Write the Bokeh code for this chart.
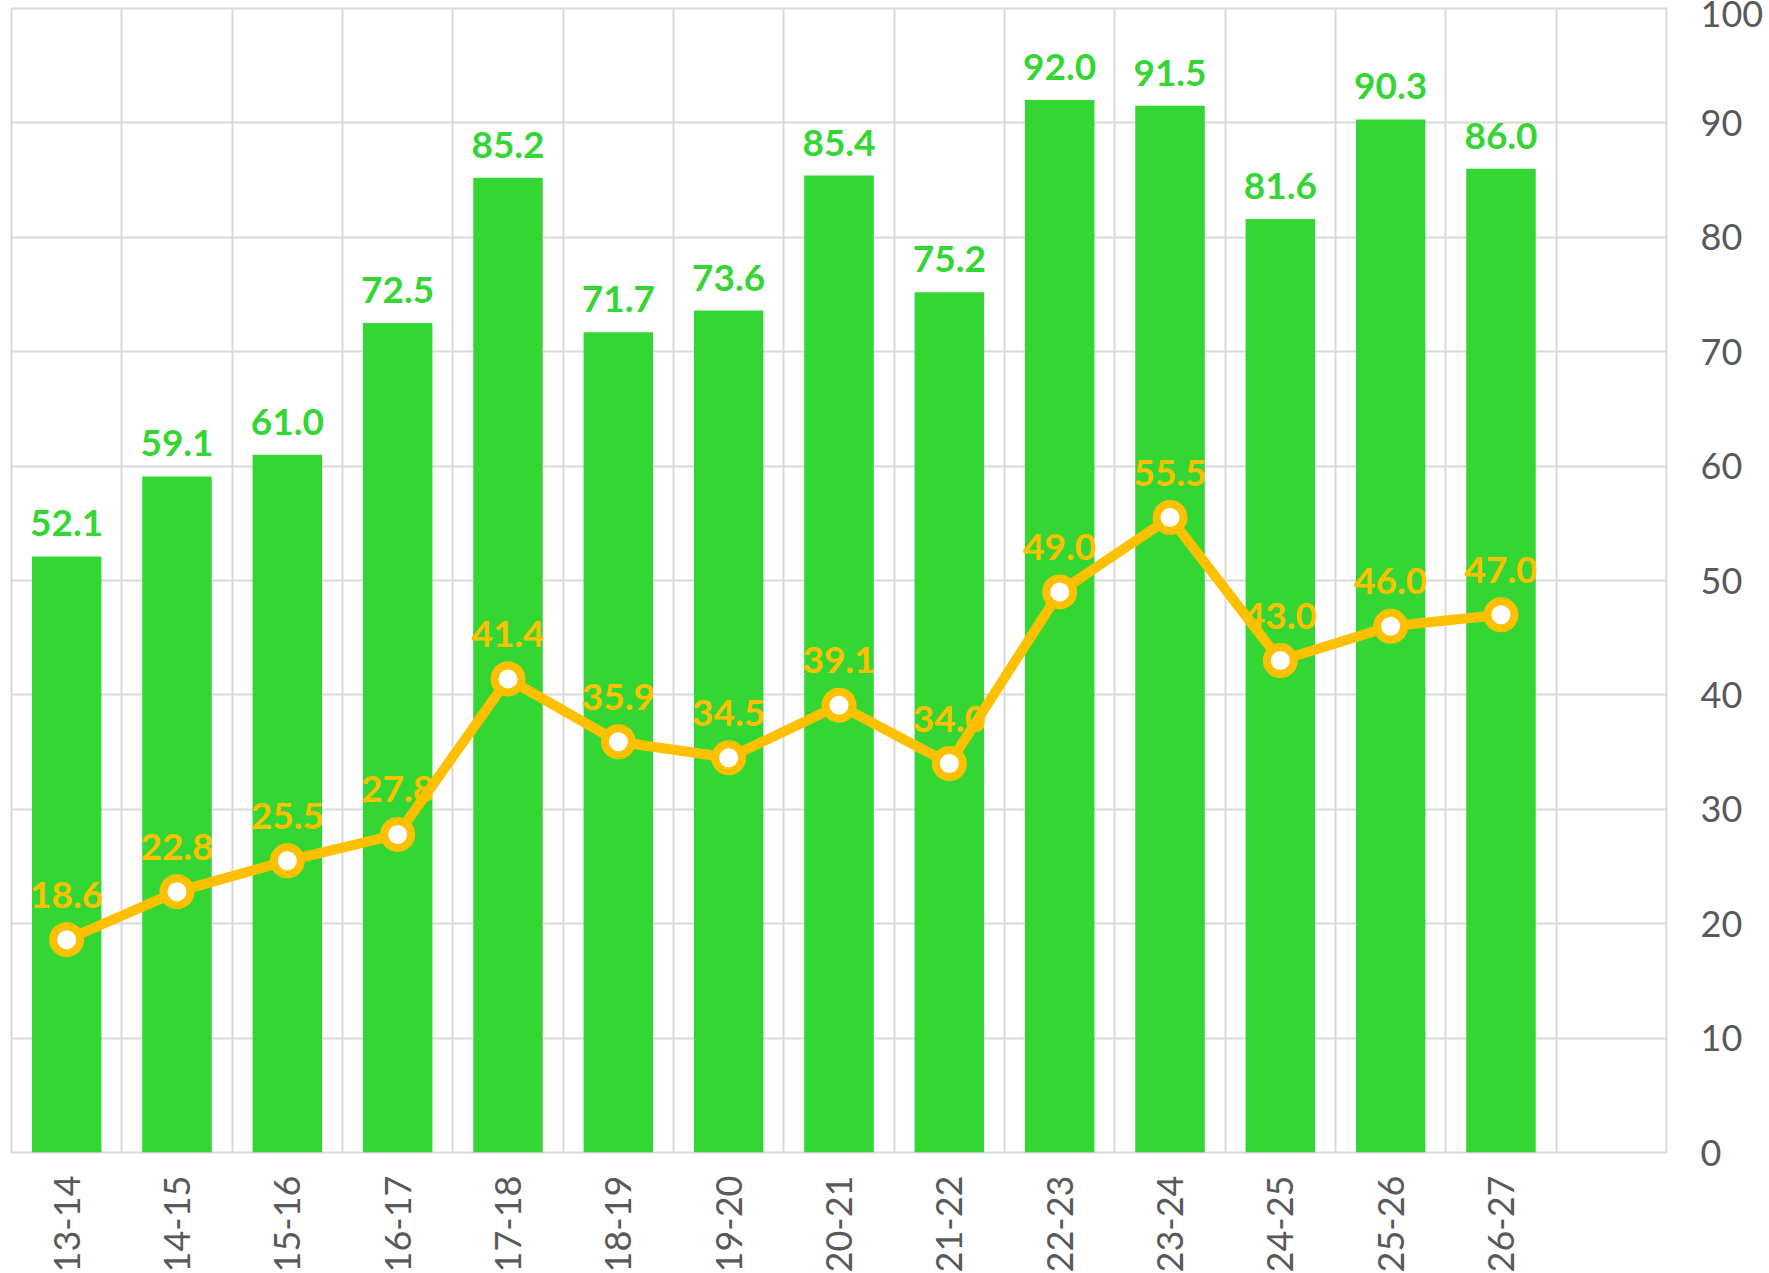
import math
from bokeh.plotting import figure
from bokeh.models import ColumnDataSource, FixedTicker, Range1d
from bokeh.core.properties import value
from bokeh.embed import file_html
from bokeh.resources import INLINE

categories = ["13-14", "14-15", "15-16", "16-17", "17-18", "18-19", "19-20",
              "20-21", "21-22", "22-23", "23-24", "24-25", "25-26", "26-27"]
bar_values = [52.1, 59.1, 61.0, 72.5, 85.2, 71.7, 73.6, 85.4, 75.2, 92.0, 91.5, 81.6, 90.3, 86.0]
line_values = [18.6, 22.8, 25.5, 27.8, 41.4, 35.9, 34.5, 39.1, 34.0, 49.0, 55.5, 43.0, 46.0, 47.0]
y_ticks = [0, 10, 20, 30, 40, 50, 60, 70, 80, 90, 100]

GREEN = "#34D634"
GOLD = "#FFC000"
GREY_TEXT = "#595959"
GRID = "#D9D9D9"
FONT = "Lato"

xs = [i + 0.5 for i in range(len(categories))]
src = ColumnDataSource(dict(
    x=xs, bar=bar_values, line=line_values,
    bar_lbl=["%.1f" % v for v in bar_values],
    line_lbl=["%.1f" % v for v in line_values],
))

p = figure(frame_width=1655, frame_height=1144, output_backend="svg",
           toolbar_location=None, y_axis_location="right",
           x_range=Range1d(0, len(categories) + 1), y_range=Range1d(0, 100),
           min_border_left=11, min_border_top=8, min_border_right=0, min_border_bottom=0)

p.outline_line_color = GRID
p.outline_line_width = 2
p.background_fill_color = "white"
p.border_fill_color = "white"

# grids
p.xgrid.ticker = FixedTicker(ticks=list(range(0, len(categories) + 2)))
p.xgrid.grid_line_color = GRID
p.xgrid.grid_line_width = 2
p.ygrid.grid_line_color = GRID
p.ygrid.grid_line_width = 2

# x axis
p.xaxis.ticker = FixedTicker(ticks=xs)
p.xaxis.major_label_overrides = {x: c for x, c in zip(xs, categories)}
p.xaxis.major_label_orientation = math.pi / 2
p.xaxis.axis_line_color = None
p.xaxis.major_tick_line_color = None
p.xaxis.minor_tick_line_color = None
p.xaxis.major_tick_out = 0
p.xaxis.major_label_standoff = 23
p.xaxis.major_label_text_font = FONT
p.xaxis.major_label_text_font_size = "36px"
p.xaxis.major_label_text_color = GREY_TEXT

# y axis (right)
p.yaxis.ticker = FixedTicker(ticks=y_ticks)
p.yaxis.axis_line_color = None
p.yaxis.major_tick_line_color = None
p.yaxis.minor_tick_line_color = None
p.yaxis.major_tick_out = 0
p.yaxis.major_label_standoff = 34
p.yaxis.major_label_text_font = FONT
p.yaxis.major_label_text_font_size = "36px"
p.yaxis.major_label_text_color = GREY_TEXT

# bars
p.vbar(x="x", top="bar", width=0.63, bottom=0, source=src,
       fill_color=GREEN, line_color=None)
p.text(x="x", y="bar", text="bar_lbl", source=src, y_offset=-33,
       text_align="center", text_baseline="alphabetic",
       text_font=value(FONT), text_font_style="bold",
       text_font_size="37px", text_color=GREEN)

# line labels (drawn beneath the line)
p.text(x="x", y="line", text="line_lbl", source=src, y_offset=-45,
       text_align="center", text_baseline="alphabetic",
       text_font=value(FONT), text_font_style="bold",
       text_font_size="37px", text_color=GOLD)

# line
p.line(x="x", y="line", source=src, line_color=GOLD, line_width=10)
p.scatter(x="x", y="line", source=src, size=27, fill_color="white",
          line_color=GOLD, line_width=8)

open("out.html", "w").write(file_html(p, INLINE))
